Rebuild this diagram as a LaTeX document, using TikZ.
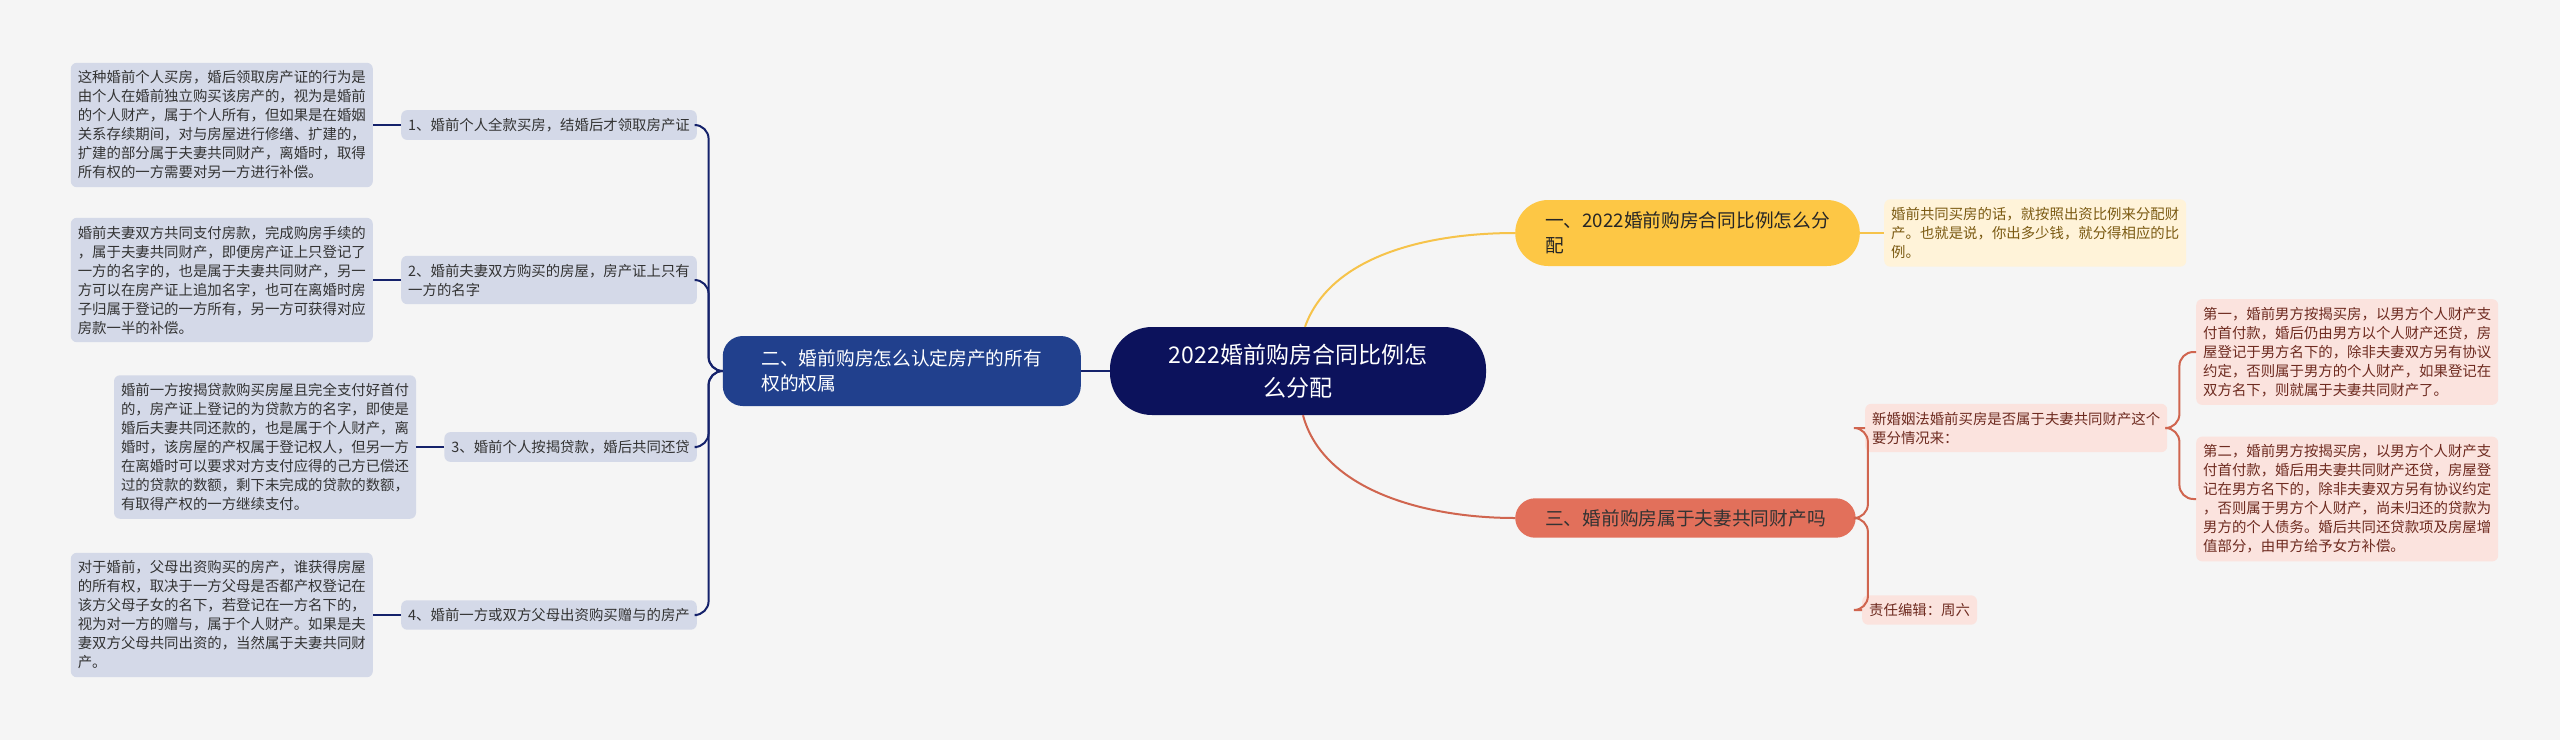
\documentclass[tikz,border=0pt]{standalone}
\usepackage{fontspec}
\setmainfont{Noto Sans CJK SC}
\usetikzlibrary{positioning}

\definecolor{bgc}{HTML}{F5F5F5}
\definecolor{rootc}{HTML}{0C125C}
\definecolor{bluec}{HTML}{21408D}
\definecolor{navyline}{HTML}{15226B}
\definecolor{greyc}{HTML}{D4D9E8}
\definecolor{yellowc}{HTML}{FDC745}
\definecolor{yellowline}{HTML}{F6C34A}
\definecolor{creamc}{HTML}{FFF3D9}
\definecolor{creamtext}{HTML}{7B5A12}
\definecolor{redc}{HTML}{E2705B}
\definecolor{redline}{HTML}{D0654F}
\definecolor{pinkc}{HTML}{FBE3DE}
\definecolor{pinktext}{HTML}{6E2B20}

\begin{document}
\begin{tikzpicture}[x=1pt,y=-1pt,
  root/.style={fill=rootc,text=white,rounded corners=42pt,align=center,
    minimum width=376pt,minimum height=88pt,font=\fontsize{23}{33}\selectfont},
  topic/.style={rounded corners=20pt,align=left,inner xsep=30pt,inner ysep=10pt,
    font=\fontsize{18.7}{25}\selectfont},
  sub/.style={fill=greyc,text=black!80,rounded corners=6pt,align=left,
    inner xsep=7pt,inner ysep=8pt,font=\fontsize{14.4}{19}\selectfont},
  note/.style={sub,fill=creamc,text=creamtext},
  pink/.style={sub,fill=pinkc,text=pinktext},
  bline/.style={navyline,line width=2pt,rounded corners=14pt},
  rline/.style={redline,line width=2pt,rounded corners=14pt}]

\fill[bgc] (0,0) rectangle (2560,740);
\useasboundingbox (0,0) rectangle (2560,740);

% centre
\node[root] (main) at (1298,371) {2022婚前购房合同比例怎\\么分配};

% left branch
\node[topic,fill=bluec,text=white,anchor=east,minimum width=358pt,minimum height=70pt]
  (own) at (1081,371) {二、婚前购房怎么认定房产的所有\\权的权属};
\node[sub,anchor=east] (own1) at (697,125) {1、婚前个人全款买房，结婚后才领取房产证};
\node[sub,anchor=east] (own2) at (697,280) {2、婚前夫妻双方购买的房屋，房产证上只有\\一方的名字};
\node[sub,anchor=east] (own3) at (697,447) {3、婚前个人按揭贷款，婚后共同还贷};
\node[sub,anchor=east] (own4) at (697,615) {4、婚前一方或双方父母出资购买赠与的房产};

\node[sub,left=28pt of own1] (txt1) {这种婚前个人买房，婚后领取房产证的行为是\\由个人在婚前独立购买该房产的，视为是婚前\\的个人财产，属于个人所有，但如果是在婚姻\\关系存续期间，对与房屋进行修缮、扩建的，\\扩建的部分属于夫妻共同财产，离婚时，取得\\所有权的一方需要对另一方进行补偿。};
\node[sub,left=28pt of own2] (txt2) {婚前夫妻双方共同支付房款，完成购房手续的\\，属于夫妻共同财产，即便房产证上只登记了\\一方的名字的，也是属于夫妻共同财产，另一\\方可以在房产证上追加名字，也可在离婚时房\\子归属于登记的一方所有，另一方可获得对应\\房款一半的补偿。};
\node[sub,left=28pt of own3] (txt3) {婚前一方按揭贷款购买房屋且完全支付好首付\\的，房产证上登记的为贷款方的名字，即使是\\婚后夫妻共同还款的，也是属于个人财产，离\\婚时，该房屋的产权属于登记权人，但另一方\\在离婚时可以要求对方支付应得的己方已偿还\\过的贷款的数额，剩下未完成的贷款的数额，\\有取得产权的一方继续支付。};
\node[sub,left=28pt of own4] (txt4) {对于婚前，父母出资购买的房产，谁获得房屋\\的所有权，取决于一方父母是否都产权登记在\\该方父母子女的名下，若登记在一方名下的，\\视为对一方的赠与，属于个人财产。如果是夫\\妻双方父母共同出资的，当然属于夫妻共同财\\产。};

% right branches
\node[topic,fill=yellowc,text=black!85,anchor=west,minimum height=66pt,rounded corners=33pt]
  (ratio) at (1515,233) {一、2022婚前购房合同比例怎么分\\配};
\node[note,right=24pt of ratio] (ratio1) {婚前共同买房的话，就按照出资比例来分配财\\产。也就是说，你出多少钱，就分得相应的比\\例。};

\node[topic,fill=redc,text=black!80,anchor=west,inner ysep=11pt]
  (common) at (1515,518) {三、婚前购房属于夫妻共同财产吗};
\node[pink,anchor=west] (law) at (1865,428) {新婚姻法婚前买房是否属于夫妻共同财产这个\\要分情况来：};
\node[pink,anchor=west] (editor) at (1862,610) {责任编辑：周六};
\node[pink,anchor=west] (case1) at (2196,352) {第一，婚前男方按揭买房，以男方个人财产支\\付首付款，婚后仍由男方以个人财产还贷，房\\屋登记于男方名下的，除非夫妻双方另有协议\\约定，否则属于男方的个人财产，如果登记在\\双方名下，则就属于夫妻共同财产了。};
\node[pink,anchor=west] (case2) at (2196,499) {第二，婚前男方按揭买房，以男方个人财产支\\付首付款，婚后用夫妻共同财产还贷，房屋登\\记在男方名下的，除非夫妻双方另有协议约定\\，否则属于男方个人财产，尚未归还的贷款为\\男方的个人债务。婚后共同还贷款项及房屋增\\值部分，由甲方给予女方补偿。};

% connectors
\draw[navyline,line width=2pt] (main.west) -- (own.east);
\foreach \c in {own1,own2,own3,own4}
  \draw[bline] (own.west) -- ++(-14,0) |- (\c.east);
\foreach \c/\t in {own1/txt1,own2/txt2,own3/txt3,own4/txt4}
  \draw[navyline,line width=2.5pt] (\c.west) -- (\t.east);

\draw[yellowline,line width=2pt] ([xshift=7pt]main.north) .. controls +(25,-70) and +(-90,0) .. (ratio.west);
\draw[yellowline,line width=2pt] (ratio.east) -- (ratio1.west);
\draw[redline,line width=2pt] ([xshift=5pt]main.south) .. controls +(20,75) and +(-90,0) .. (common.west);
\foreach \c in {law,editor}
  \draw[rline] (common.east) -- ++(12,0) |- (\c.west);
\foreach \c in {case1,case2}
  \draw[rline] (law.east) -- ++(12,0) |- (\c.west);
\end{tikzpicture}
\end{document}
